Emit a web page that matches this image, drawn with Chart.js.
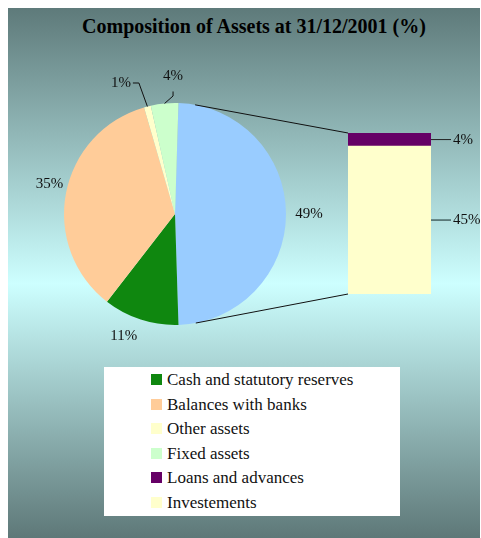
<!DOCTYPE html>
<html><head><meta charset="utf-8">
<script src="https://cdn.jsdelivr.net/npm/chart.js"></script>
<style>
html,body{margin:0;padding:0;background:#fff;width:481px;height:538px;overflow:hidden;}
#bg{position:absolute;left:8px;top:8px;width:472px;height:530px;background:linear-gradient(to bottom,#5e7a7a 0%,#cdffff 52%,#5e7878 100%);}
canvas{position:absolute;left:0;top:0;}
#title{position:absolute;left:0;width:508px;top:16px;text-align:center;font:bold 20px "Liberation Serif";line-height:20px;color:#000;white-space:nowrap;}
#legend{position:absolute;left:104px;top:367px;width:296px;height:149px;background:#fff;}
.item{position:absolute;left:0;height:20px;width:296px;font:17px "Liberation Serif";line-height:20px;color:#111;white-space:nowrap;}
.item .sw{position:absolute;left:47px;top:4px;width:11px;height:11px;}
.item .tx{position:absolute;left:63px;top:0;}
</style>
</head><body>
<div id="bg"></div>
<div id="title">Composition of Assets at 31/12/2001 (%)</div>
<canvas id="pie" width="481" height="538"></canvas>
<canvas id="bar" width="481" height="538"></canvas>
<div id="legend"></div>
<script>
// ---- data ----
const pieLabels = ['Loans and advances + Investements', 'Cash and statutory reserves', 'Balances with banks', 'Other assets', 'Fixed assets'];
const pieValues = [49, 11, 35, 1, 4];
const barLabels = ['Investements', 'Loans and advances'];
const barValues = [45, 4];

// ---- styles ----
const pieColors = ['#99ccff', '#0f870f', '#ffcc99', '#ffffcc', '#ccffcc'];
const barColors = ['#ffffcc', '#660066'];
const labelFont = '15px "Liberation Serif"';

// label placement relative to each slice's rim mid-point
const pieLabelStyle = [
  {dx: 23, dy: 0, align: 'center'},
  {dx: -17, dy: 16, align: 'center'},
  {dx: -16.5, dy: -9, align: 'center'},
  {dx: -16.5, dy: -23.5, align: 'right', leader: [[-8.5, -23.5], [-14.5, -23.5]]},
  {dx: 8.5, dy: -27, align: 'center', leader: [[8.5, -7.5], [8.5, -12]]}
];

const pieLabelPlugin = {
  id: 'pieLabelPlugin',
  afterDatasetsDraw(chart) {
    const ctx = chart.ctx;
    const meta = chart.getDatasetMeta(0);
    ctx.save();
    ctx.font = labelFont;
    ctx.fillStyle = '#111';
    ctx.textBaseline = 'middle';
    meta.data.forEach((arc, i) => {
      const mid = (arc.startAngle + arc.endAngle) / 2;
      const r = arc.outerRadius;
      const px = arc.x + r * Math.cos(mid), py = arc.y + r * Math.sin(mid);
      const st = pieLabelStyle[i];
      if (st.leader) {
        ctx.strokeStyle = '#111';
        ctx.lineWidth = 1;
        ctx.beginPath();
        ctx.moveTo(px, py);
        st.leader.forEach(p => ctx.lineTo(px + p[0], py + p[1]));
        ctx.stroke();
      }
      ctx.textAlign = st.align;
      ctx.fillText(pieValues[i] + '%', px + st.dx, py + st.dy);
    });
    ctx.restore();
  }
};

const pieTotal = pieValues.reduce((s, v) => s + v, 0);
// composite slice centred on the right-hand side (pie-of-bar convention)
const pieRotation = 90 - (pieValues[0] / pieTotal) * 180;

const pieChart = new Chart(document.getElementById('pie'), {
  type: 'pie',
  data: {
    labels: pieLabels,
    datasets: [{data: pieValues, backgroundColor: pieColors, borderWidth: 0}]
  },
  options: {
    responsive: false,
    animation: false,
    rotation: pieRotation,
    layout: {padding: {left: 64, top: 103, right: 195, bottom: 213}},
    plugins: {legend: {display: false}, tooltip: {enabled: false}}
  },
  plugins: [pieLabelPlugin]
});

const barPlugin = {
  id: 'barPlugin',
  afterDatasetsDraw(chart) {
    const ctx = chart.ctx;
    const bottomEl = chart.getDatasetMeta(0).data[0];
    const topEl = chart.getDatasetMeta(barValues.length - 1).data[0];
    const left = bottomEl.x - bottomEl.width / 2;
    const right = bottomEl.x + bottomEl.width / 2;
    const top = topEl.y, bottom = bottomEl.base;
    const arc = pieChart.getDatasetMeta(0).data[0];
    const cx = arc.x, cy = arc.y, r = arc.outerRadius;
    ctx.save();
    // connector lines (tangents from bar corners to the pie)
    ctx.strokeStyle = '#111';
    ctx.lineWidth = 1;
    [[top, -1], [bottom, 1]].forEach(([py, sgn]) => {
      const vx = left - cx, vy = py - cy;
      const d = Math.hypot(vx, vy);
      const a = Math.atan2(vy, vx) + sgn * Math.acos(r / d);
      ctx.beginPath();
      ctx.moveTo(cx + r * Math.cos(a), cy + r * Math.sin(a));
      ctx.lineTo(left, py);
      ctx.stroke();
    });
    // segment labels
    ctx.font = labelFont;
    ctx.fillStyle = '#111';
    ctx.textBaseline = 'middle';
    ctx.textAlign = 'left';
    barValues.forEach((v, i) => {
      const el = chart.getDatasetMeta(i).data[0];
      const my = (el.y + el.base) / 2;
      ctx.strokeStyle = i === 0 ? '#4d6a6a' : '#222';
      ctx.lineWidth = i === 0 ? 1.6 : 1;
      ctx.beginPath();
      ctx.moveTo(right, my);
      ctx.lineTo(right + 20, my);
      ctx.stroke();
      ctx.fillText(v + '%', right + 22, my);
    });
    ctx.restore();
  }
};

const barTotal = barValues.reduce((s, v) => s + v, 0);
new Chart(document.getElementById('bar'), {
  type: 'bar',
  data: {
    labels: [''],
    datasets: barValues.map((v, i) => ({
      label: barLabels[i], data: [v], backgroundColor: barColors[i],
      borderWidth: 0, barPercentage: 1, categoryPercentage: 1
    }))
  },
  options: {
    responsive: false,
    animation: false,
    layout: {padding: {left: 348, top: 133, right: 50, bottom: 244}},
    scales: {
      x: {stacked: true, display: false},
      y: {stacked: true, display: false, min: 0, max: barTotal}
    },
    plugins: {legend: {display: false}, tooltip: {enabled: false}}
  },
  plugins: [barPlugin]
});

// legend
const legendItems = [];
for (let i = 1; i < pieLabels.length; i++) legendItems.push([pieLabels[i], pieColors[i]]);
for (let i = barLabels.length - 1; i >= 0; i--) legendItems.push([barLabels[i], barColors[i]]);
const lg = document.getElementById('legend');
legendItems.forEach(([name, col], k) => {
  const it = document.createElement('div');
  it.className = 'item';
  it.style.top = (3 + k * 24.5) + 'px';
  it.innerHTML = '<span class="sw" style="background:' + col + '"></span><span class="tx"></span>';
  it.querySelector('.tx').textContent = name;
  lg.appendChild(it);
});
</script>
</body></html>
